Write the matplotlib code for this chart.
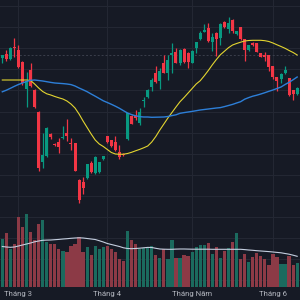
import matplotlib
matplotlib.use("Agg")
import matplotlib.pyplot as plt
import numpy as np

# ---- data (price units) ----
opens = [242.3, 246.0, 241.0, 253.0, 250.0, 238.3, 211.0, 229.7, 210.0, 188.3,
         138.3, 144.3, 166.0, 156.3, 158.3, 162.0, 167.0, 157.0, 156.7, 120.0,
         118.3, 122.3, 136.7, 127.3, 128.3, 140.7, 164.0, 160.0, 158.0, 148.3,
         146.5, 160.7, 184.3, 183.7, 177.5, 199.0, 202.7, 212.7, 227.3, 219.0,
         236.7, 227.3, 245.0, 248.3, 236.7, 251.0, 247.3, 237.3, 252.3, 260.7,
         268.3, 272.3, 258.3, 267.3, 261.7, 277.7, 271.0, 280.0, 265.7, 272.7,
         260.7, 250.0, 257.3, 256.7, 246.7, 245.0, 245.0, 234.3, 222.7, 221.0,
         227.0, 221.7, 210.0, 206.5]
highs = [245.5, 250.0, 253.3, 262.3, 255.0, 239.0, 228.3, 237.0, 211.0, 189.0,
         167.0, 173.0, 167.0, 157.0, 162.0, 174.0, 180.7, 162.3, 157.0, 120.7,
         123.0, 136.0, 139.0, 144.0, 138.5, 144.5, 164.5, 160.5, 164.3, 155.0,
         147.5, 187.0, 185.0, 190.0, 191.7, 203.0, 211.0, 222.3, 234.0, 231.7,
         245.0, 245.0, 257.3, 251.7, 250.7, 251.7, 248.0, 250.0, 258.3, 269.3,
         275.7, 276.7, 267.3, 268.0, 276.7, 279.3, 283.3, 280.7, 269.5, 273.0,
         261.0, 255.5, 258.0, 257.0, 247.0, 248.3, 245.5, 234.5, 223.0, 227.0,
         234.3, 222.0, 210.5, 213.0]
lows = [237.0, 239.3, 240.0, 243.3, 232.3, 215.0, 193.0, 213.0, 192.0, 129.0,
        132.0, 143.0, 161.5, 154.5, 147.3, 161.0, 159.3, 150.0, 129.0, 97.3,
        106.0, 120.7, 127.5, 126.0, 127.5, 140.0, 157.0, 153.5, 149.0, 141.0,
        144.5, 160.0, 176.0, 180.5, 175.0, 193.0, 202.0, 209.3, 216.7, 210.7,
        226.7, 220.0, 227.3, 236.7, 235.0, 236.7, 231.7, 236.7, 246.7, 260.0,
        267.7, 258.3, 249.0, 244.3, 255.0, 271.7, 266.7, 266.7, 265.0, 260.0,
        239.3, 249.0, 254.0, 248.0, 243.0, 239.3, 229.3, 220.7, 209.0, 216.7,
        226.0, 204.0, 200.0, 205.5]
closes = [245.0, 241.0, 252.3, 251.7, 233.3, 216.7, 219.0, 214.0, 192.7, 132.0,
          145.0, 172.3, 162.7, 155.3, 152.7, 163.3, 164.3, 156.0, 129.3, 100.0,
          112.3, 135.7, 128.3, 143.3, 138.0, 144.0, 158.0, 154.3, 150.0, 143.0,
          145.5, 186.7, 176.5, 182.5, 188.3, 200.0, 210.5, 220.0, 218.3, 229.0,
          227.3, 240.0, 247.3, 237.3, 250.0, 238.3, 237.7, 249.0, 257.7, 267.3,
          270.0, 259.3, 263.3, 261.0, 276.0, 273.3, 276.7, 269.3, 269.0, 260.7,
          250.0, 255.0, 254.7, 248.3, 243.3, 243.3, 233.3, 222.7, 219.5, 226.0,
          230.0, 205.0, 206.0, 212.3]
ma_fast = [220, 220, 220, 220, 220, 220, 220, 219.5, 216, 212,
           208.5, 206.2, 205, 203.5, 202.2, 201, 199, 196, 192, 186,
           179, 172.5, 166, 160, 156, 153.5, 150.5, 147.5, 146, 145.7,
           145.8, 146.5, 147.7, 149.2, 150.6, 152.2, 154, 158, 163.5, 170,
           176, 182, 187.5, 193, 198.3, 202.5, 207, 211.5, 216, 219.3,
           224.2, 229.5, 235.2, 240.5, 245.3, 248.8, 252.3, 255, 256.5, 257.8,
           259, 259.5, 259.7, 259.7, 259.7, 259.3, 258.5, 257, 255.2, 253.5,
           251.7, 249.5, 247.5, 245]
ma_slow = [208.2, 209.8, 211.7, 213.7, 215.5, 217, 218.5, 219.7, 220, 219.5,
           219, 218.3, 217.6, 217, 216.7, 216.4, 216, 215.4, 214, 212,
           210.2, 208.3, 206, 203.8, 201.5, 199.2, 197.5, 195.7, 193.8, 191.7,
           189.3, 187, 185.4, 184.2, 183.4, 183, 183, 182.7, 182.8, 182.9,
           183, 183.5, 184.4, 185.2, 186.7, 187.4, 188, 188.6, 189.3, 190,
           190.5, 191, 191.5, 192, 192.4, 193.4, 194.5, 195.6, 197, 198.3,
           200.8, 202.4, 203.8, 204.8, 206, 207.3, 208.7, 210, 211.5, 213,
           215.5, 217.7, 220.3, 223]
volumes = [48, 54, 38, 43, 70, 60, 73, 55.3, 47, 63,
           66.7, 45.3, 43, 43, 37.7, 36.3, 35, 41, 42.7, 49.7,
           34.7, 40.3, 32, 41, 37.7, 39.7, 41, 38, 35.3, 28,
           26, 56, 47, 43, 38, 39.3, 39.7, 41, 32, 29.3,
           38, 28, 47.3, 29.3, 29.3, 32, 31, 35.3, 39.7, 42,
           42, 44, 32.7, 40, 29.3, 35.7, 39, 45.3, 53.7, 28.3,
           33, 25.3, 30, 34, 30.7, 28, 22, 32.7, 30.3, 23,
           23, 31.3, 22, 23.7]
vol_ma = [40.5, 40, 39.7, 40, 41, 42, 43, 44, 45.2, 46,
          46.7, 46.9, 47, 47.3, 47.6, 48, 48.3, 48.7, 49, 49.2,
          49, 48.5, 48, 47.5, 46.3, 45, 43.5, 42.5, 41.5, 40.5,
          39.2, 38.5, 38.3, 38.5, 38.8, 39.2, 39.6, 39.5, 38.7, 38,
          37.8, 37.7, 37.7, 37.9, 38, 38, 37.9, 37.8, 37.8, 37.8,
          37.8, 37.8, 37.7, 37.7, 37.7, 37.7, 37.7, 37.7, 37.7, 37.7,
          37.4, 37, 36.7, 36.3, 36, 35.7, 35.4, 35, 34.6, 34.2,
          33.5, 32.8, 31.8, 30.7]
month_idx = [4, 26, 47, 67]
month_labels = ["Tháng 3", "Tháng 4", "Tháng Năm", "Tháng 6"]
ref_price = 245

# ---- style ----
BG = "#161a25"
GRID = "#232733"
UP = "#089981"
DOWN = "#f23645"
VUP = "#1b6a5e"
VDOWN = "#8c3a46"

n = len(opens)
x = np.arange(n)
o = np.array(opens); h = np.array(highs); l = np.array(lows); c = np.array(closes)
up = c >= o
XL = (-0.57, n - 0.3)
rect = [0, 13 / 300, 1, 287 / 300]

fig = plt.figure(figsize=(3, 3), dpi=100, facecolor=BG)

# background axes: grid + volume
axv = fig.add_axes(rect, zorder=0)
axv.set_facecolor(BG)
axv.set_xlim(*XL)
axv.set_ylim(0, 287)
axv.set_yticks(np.arange(281, 0, -21.1))
axv.set_xticks(month_idx)
axv.grid(True, color=GRID, linewidth=0.8)
axv.set_axisbelow(True)
axv.tick_params(left=False, bottom=False, labelleft=False, labelbottom=False)
for s in axv.spines.values():
    s.set_visible(False)
axv.bar(x, volumes, width=0.8, color=[VUP if u else VDOWN for u in up], zorder=2)
axv.plot(x, vol_ma, color="#c5cfe0", linewidth=0.8, zorder=3)

# price axes on top
ax = fig.add_axes(rect, zorder=1)
ax.patch.set_visible(False)
ax.set_xlim(*XL)
ax.set_ylim(13, 300)
ax.set_yticks([])
ax.set_xticks(month_idx)
ax.set_xticklabels(month_labels, family=["Roboto", "DejaVu Sans"])
ax.tick_params(axis="x", length=0, pad=3, labelsize=5.6, labelcolor="#b2b5be")
for s in ax.spines.values():
    s.set_visible(False)
ax.axhline(ref_price, color="#3b3f4c", linewidth=0.7, linestyle=(0, (2, 2)), zorder=1)

ax.vlines(x, l, h, color=[UP if u else DOWN for u in up], linewidth=0.9, zorder=3)
body_lo = np.minimum(o, c)
body_h = np.maximum(np.abs(c - o), 0.6)
ax.bar(x, body_h, bottom=body_lo, width=0.74,
       color=[UP if u else DOWN for u in up], linewidth=0, zorder=4)
ax.plot(x, ma_fast, color="#e3d530", linewidth=0.8, zorder=5)
ax.plot(x, ma_slow, color="#2d7fd8", linewidth=1.0, zorder=5)

fig.savefig("out.png", dpi=100, facecolor=BG)
